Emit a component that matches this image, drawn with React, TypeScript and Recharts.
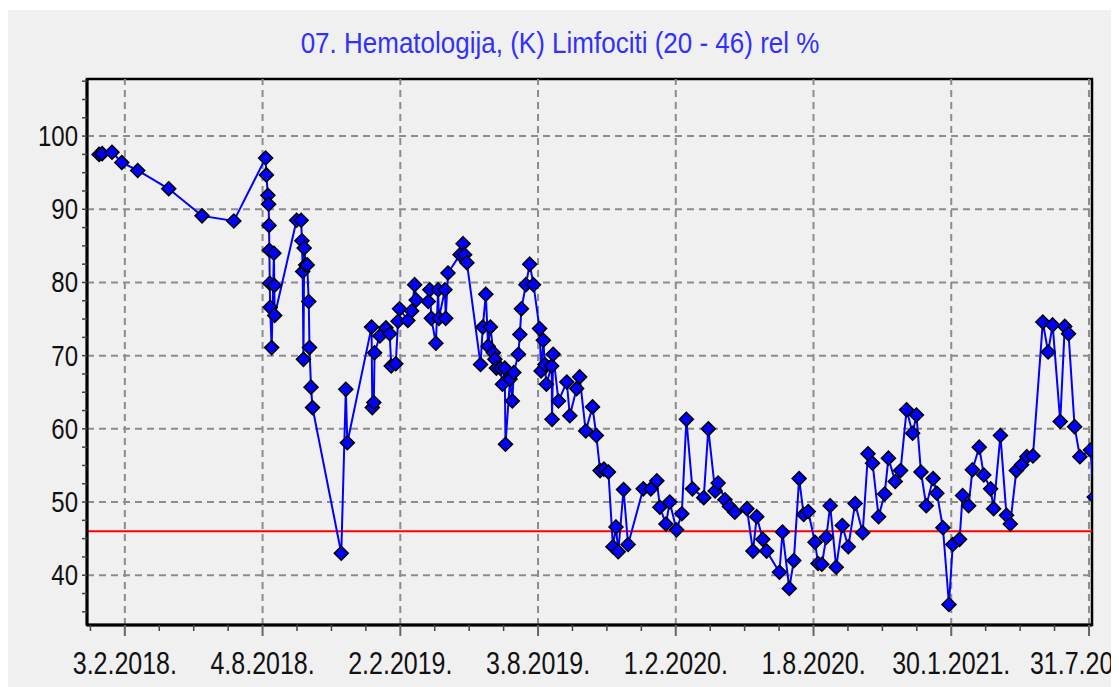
import { LineChart, Line, XAxis, YAxis, ReferenceLine, ReferenceArea } from 'recharts'

// x values are days counted from 3.2.2018.
const days = [
  -34, -30, -17, -4, 17, 58, 102, 144, 186, 187, 189, 190, 190.5, 191, 191.5, 192, 194, 197, 197.5, 198,
  227, 233, 234, 235, 236, 237, 239, 241, 243, 244, 246, 248, 286, 292, 294, 326, 327, 329, 330, 337,
  345, 350, 352, 358, 361, 363, 374, 379, 383, 385, 401, 403, 405, 411, 414, 415, 423, 424, 427, 443,
  447, 449, 452, 470, 473, 477, 480, 483, 487, 489, 491, 496, 499, 502, 503, 509, 512, 514, 520, 522,
  524, 530, 535, 540, 548, 550, 553, 555, 557, 564, 564.5, 566, 573, 584, 588, 597, 601, 609, 618, 623,
  628, 633, 639, 645, 649, 652, 659, 665, 685, 695, 703, 707, 715, 720, 729, 736, 742, 750, 765, 771,
  780, 784, 793, 799, 806, 822, 830, 835, 843, 848, 865, 869, 878, 884, 891, 897, 903, 912, 916, 921,
  927, 932, 940, 948, 956, 965, 975, 982, 988, 996, 1004, 1009, 1018, 1025, 1033, 1041, 1046, 1052, 1059, 1068,
  1073, 1081, 1089, 1094, 1103, 1107, 1115, 1120, 1129, 1135, 1144, 1148, 1157, 1165, 1170, 1178, 1185, 1192, 1200, 1213,
  1220, 1226, 1236, 1242, 1247, 1255, 1262, 1276, 1281
]

const limfociti = [
  97.5, 97.6, 97.8, 96.4, 95.3, 92.8, 89.1, 88.4, 97.0, 94.7, 91.9, 90.7, 87.8, 84.4, 79.9, 76.6, 71.1, 84.0, 79.6, 75.5,
  88.5, 88.5, 85.7, 81.5, 69.5, 84.7, 82.4, 82.4, 77.4, 71.1, 65.7, 62.9, 43.0, 65.4, 58.1, 73.9, 62.9, 63.6, 70.4, 72.7,
  73.8, 73.0, 68.6, 68.9, 74.7, 76.4, 74.8, 76.1, 79.7, 77.6, 77.4, 79.0, 75.1, 71.7, 79.0, 75.1, 79.0, 75.1, 81.3, 83.8,
  85.3, 83.8, 82.7, 68.8, 73.9, 78.4, 71.3, 73.9, 70.4, 69.5, 68.3, 68.3, 66.1, 68.3, 57.9, 66.8, 63.8, 67.7, 70.2, 72.9,
  76.4, 79.7, 82.5, 79.7, 73.7, 67.9, 72.1, 68.8, 66.1, 68.6, 61.3, 70.2, 63.8, 66.4, 61.8, 65.5, 67.1, 59.7, 63.0, 59.1,
  54.3, 54.5, 54.1, 43.9, 46.6, 43.2, 51.7, 44.2, 51.8, 51.8, 52.9, 49.3, 47.0, 50.0, 46.2, 48.4, 61.3, 51.8, 50.6, 60.0,
  51.5, 52.6, 50.3, 49.4, 48.6, 49.1, 43.3, 48.0, 44.9, 43.3, 40.4, 45.9, 38.2, 42.0, 53.2, 48.3, 48.7, 44.5, 41.6, 41.5,
  45.2, 49.5, 41.1, 46.8, 43.9, 49.8, 45.8, 56.6, 55.3, 48.0, 51.1, 56.0, 52.8, 54.3, 62.6, 59.4, 61.9, 54.1, 49.5, 53.2,
  51.2, 46.5, 36.0, 44.2, 44.9, 50.9, 49.5, 54.4, 57.5, 53.7, 51.8, 49.1, 59.1, 48.2, 47.0, 54.3, 55.1, 56.2, 56.3, 74.6,
  70.5, 74.2, 61.0, 74.0, 73.0, 60.3, 56.2, 57.1, 50.7
]

const xTickDays = [0, 182, 364, 546, 728, 910, 1092, 1274]
const xTickLabels = ['3.2.2018.', '4.8.2018.', '2.2.2019.', '3.8.2019.', '1.2.2020.', '1.8.2020.', '30.1.2021.', '31.7.2021.']
const yTicks = [40, 50, 60, 70, 80, 90, 100]
const upperLimit = 46

const title = '07. Hematologija, (K) Limfociti (20 - 46) rel %'

const data = days.map((d, i) => ({ day: d, value: limfociti[i] }))

// minor ticks: 4 per major interval on x, every 2.5 on y
const xMinor: number[] = []
for (let d = -45.5; d <= 1274; d += 45.5) xMinor.push(d)
const yMinor: number[] = []
for (let v = 35; v <= 107.5; v += 2.5) yMinor.push(v)

const font = '"Liberation Sans", Arial, sans-serif'

const Diamond = (props: any) => {
  const { cx, cy } = props
  if (cx == null || cy == null) return null
  const r = 7
  return (
    <polygon
      points={`${cx},${cy - r} ${cx + r},${cy} ${cx},${cy + r} ${cx - r},${cy}`}
      fill="#0000ff"
      stroke="#000"
      strokeWidth={1.5}
    />
  )
}

const XTick = ({ x, y, payload }: any) => {
  const idx = xTickDays.findIndex(d => Math.abs(d - payload.value) < 0.01)
  const major = idx >= 0
  return (
    <g>
      <line x1={x} y1={y} x2={x} y2={y + (major ? 11 : 6)} stroke={major ? '#666' : '#444'} strokeWidth={major ? 2 : 1.5} />
      {major && (
        <text
          transform={`translate(${x},${y + 49}) scale(1,1.25)`}
          textAnchor="middle"
          fontSize={25}
          fontFamily={font}
          fill="#111"
        >
          {xTickLabels[idx]}
        </text>
      )}
    </g>
  )
}

const YTick = ({ x, y, payload }: any) => {
  const major = yTicks.includes(payload.value)
  return (
    <g>
      <line x1={x - 5} y1={y} x2={x} y2={y} stroke="#444" strokeWidth={1.5} />
      {major && (
        <text
          transform={`translate(${x - 9},${y + 10}) scale(1,1.2)`}
          textAnchor="end"
          fontSize={24}
          fontFamily={font}
          fill="#111"
        >
          {payload.value}
        </text>
      )}
    </g>
  )
}

export default function App() {
  return (
    <div style={{ paddingTop: 2, background: '#fff' }}>
      <div style={{ position: 'relative', width: 1109, height: 677, background: '#f0f0f0' }}>
        <div
          style={{
            position: 'absolute',
            left: 0,
            top: 20,
            width: 1104,
            textAlign: 'center',
            fontFamily: font,
            fontSize: 26,
            lineHeight: '26px',
            color: '#3030ff',
            transform: 'scaleY(1.16)',
            whiteSpace: 'nowrap'
          }}
        >
          {title}
        </div>
        <LineChart
          width={1109}
          height={677}
          data={data}
          margin={{ top: 69, right: 25, bottom: 0, left: 0 }}
          style={{ position: 'absolute', left: 0, top: 0 }}
        >
          <XAxis
            type="number"
            dataKey="day"
            domain={[-50, 1278]}
            allowDataOverflow
            ticks={xMinor}
            interval={0}
            tick={<XTick />}
            tickLine={false}
            tickSize={0}
            tickMargin={0}
            height={62}
            axisLine={{ stroke: '#000', strokeWidth: 3 }}
          />
          <YAxis
            type="number"
            domain={[33.2, 107.8]}
            allowDataOverflow
            ticks={yMinor}
            interval={0}
            tick={<YTick />}
            tickLine={false}
            tickSize={0}
            tickMargin={0}
            width={79}
            axisLine={{ stroke: '#000', strokeWidth: 3 }}
          />
          {xTickDays.map(d => (
            <ReferenceLine key={'gx' + d} x={d} stroke="#8c8c8c" strokeWidth={2} strokeDasharray="7 5" />
          ))}
          {yTicks.map(v => (
            <ReferenceLine key={'gy' + v} y={v} stroke="#8c8c8c" strokeWidth={2} strokeDasharray="7 5" />
          ))}
          <ReferenceLine y={upperLimit} stroke="#ff0000" strokeWidth={2} />
          <ReferenceArea x1={-50} x2={1278} y1={33.2} y2={107.8} fill="none" stroke="#000" strokeWidth={2.5} />
          <Line
            type="linear"
            dataKey="value"
            stroke="#0000ff"
            strokeWidth={2}
            dot={<Diamond />}
            activeDot={false}
            isAnimationActive={false}
          />
        </LineChart>
      </div>
    </div>
  )
}
